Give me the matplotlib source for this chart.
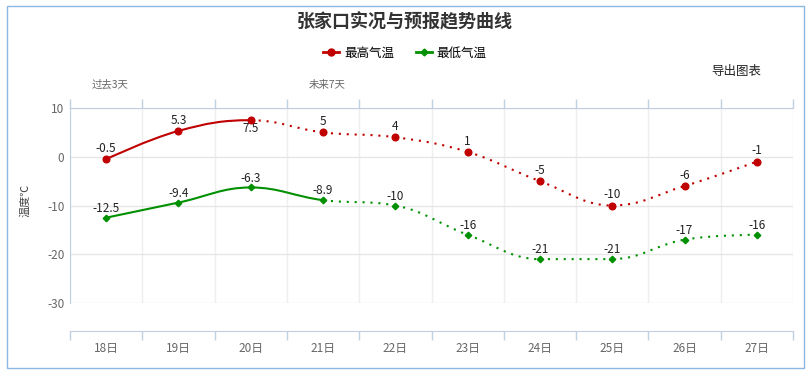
import matplotlib
matplotlib.use("Agg")
import matplotlib.pyplot as plt
from matplotlib.path import Path
from matplotlib.patches import PathPatch, Rectangle
from matplotlib.lines import Line2D

plt.rcParams["font.family"] = ["Noto Sans CJK SC", "DejaVu Sans"]
plt.rcParams["axes.unicode_minus"] = False

days = ["18日", "19日", "20日", "21日", "22日", "23日", "24日", "25日", "26日", "27日"]
high = [-0.5, 5.3, 7.5, 5, 4, 1, -5, -10, -6, -1]
low = [-12.5, -9.4, -6.3, -8.9, -10, -16, -21, -21, -17, -16]
high_labels = ["-0.5", "5.3", "7.5", "5", "4", "1", "-5", "-10", "-6", "-1"]
low_labels = ["-12.5", "-9.4", "-6.3", "-8.9", "-10", "-16", "-21", "-21", "-17", "-16"]
high_solid_until = 2   # index of last observed day
low_solid_until = 3
yticks = [10, 0, -10, -20, -30]

RED = "#c00000"
GREEN = "#009000"
AXIS_BLUE = "#c0d0e0"
GRID = "#e6e6e6"
TICK_GRAY = "#666666"

W, H = 809, 371


def spline_segments(xs, ys, smoothing=1.5):
    """Bezier control points for each segment, Highcharts-style spline."""
    n = len(xs)
    denom = smoothing + 1
    left = [None] * n
    right = [None] * n
    for i in range(1, n - 1):
        px, py = xs[i], ys[i]
        lx, ly = xs[i - 1], ys[i - 1]
        nx, ny = xs[i + 1], ys[i + 1]
        lcx = (smoothing * px + lx) / denom
        lcy = (smoothing * py + ly) / denom
        rcx = (smoothing * px + nx) / denom
        rcy = (smoothing * py + ny) / denom
        corr = ((rcy - lcy) * (rcx - px)) / (rcx - lcx) + py - rcy
        lcy += corr
        rcy += corr
        if lcy > ly and lcy > py:
            lcy = max(ly, py)
            rcy = 2 * py - lcy
        elif lcy < ly and lcy < py:
            lcy = min(ly, py)
            rcy = 2 * py - lcy
        if rcy > ny and rcy > py:
            rcy = max(ny, py)
            lcy = 2 * py - rcy
        elif rcy < ny and rcy < py:
            rcy = min(ny, py)
            lcy = 2 * py - rcy
        left[i] = (lcx, lcy)
        right[i] = (rcx, rcy)
    segs = []
    for i in range(n - 1):
        p0 = (xs[i], ys[i])
        p3 = (xs[i + 1], ys[i + 1])
        c1 = right[i] if right[i] is not None else p0
        c2 = left[i + 1] if left[i + 1] is not None else p3
        segs.append([p0, c1, c2, p3])
    return segs


def draw_series(ax, values, color, solid_until, marker, ms):
    xs = list(range(len(values)))
    for i, seg in enumerate(spline_segments(xs, values)):
        path = Path(seg, [Path.MOVETO, Path.CURVE4, Path.CURVE4, Path.CURVE4])
        style = "-" if i < solid_until else (0, (1, 2.8))
        ax.add_patch(PathPatch(path, fill=False, edgecolor=color, lw=1.5,
                               linestyle=style, zorder=3, clip_on=False))
    ax.plot(xs, values, linestyle="none", marker=marker, ms=ms,
            color=color, zorder=4, clip_on=False)


fig = plt.figure(figsize=(W / 100, H / 100), dpi=100)
fig.patches.append(Rectangle((7 / W, 3 / H), 797 / W, 362 / H, transform=fig.transFigure,
                             fill=False, edgecolor="#8ab8e2", lw=1))

ax = fig.add_axes([70 / W, 1 - 303 / H, 723 / W, 195 / H])
ax.set_xlim(-0.5, len(days) - 0.5)
ax.set_ylim(-30, 10)

draw_series(ax, high, RED, high_solid_until, "o", 4.8)
draw_series(ax, low, GREEN, low_solid_until, "D", 3.3)

for i, (v, t) in enumerate(zip(high, high_labels)):
    if i == high_solid_until:
        ax.annotate(t, (i, v), xytext=(0, -1), textcoords="offset points",
                    ha="center", va="top", fontsize=8.5, color="#222222")
    else:
        ax.annotate(t, (i, v), xytext=(0, 3), textcoords="offset points",
                    ha="center", va="bottom", fontsize=8.5, color="#222222")
for i, (v, t) in enumerate(zip(low, low_labels)):
    ax.annotate(t, (i, v), xytext=(0, 2), textcoords="offset points",
                ha="center", va="bottom", fontsize=8.5, color="#222222")

# axes styling
ax.set_yticks(yticks)
ax.set_yticklabels([str(v) for v in yticks])
ax.set_xticks(range(len(days)))
ax.set_xticklabels(days)
ax.set_xticks([i - 0.5 for i in range(len(days) + 1)], minor=True)
ax.tick_params(axis="y", length=0, pad=4, labelsize=8.5, labelcolor=TICK_GRAY)
ax.tick_params(axis="x", which="major", length=0, pad=8, labelsize=8.5, labelcolor=TICK_GRAY)
ax.tick_params(axis="x", which="minor", length=6.5, color=AXIS_BLUE, width=1,
               top=True, bottom=True)
ax.grid(axis="y", color=GRID, lw=1)
ax.grid(axis="x", which="minor", color="#eeeeee", lw=1)
ax.set_axisbelow(True)
for side in ("top", "left", "bottom"):
    ax.spines[side].set_color(AXIS_BLUE)
ax.spines["right"].set_visible(False)
ax.spines["bottom"].set_position(("outward", 20))

ax.set_ylabel("温度℃", fontsize=8, color="#444444")
ax.yaxis.set_label_coords((30 - 70) / 723, (303 - 200) / 195)

fig.text(405 / W, 1 - 22 / H, "张家口实况与预报趋势曲线", ha="center", va="center",
         fontsize=13, fontweight="bold", color="#333333")
fig.text(110 / W, 1 - 85 / H, "过去3天", ha="center", va="center", fontsize=7.5, color=TICK_GRAY)
fig.text(327 / W, 1 - 85 / H, "未来7天", ha="center", va="center", fontsize=7.5, color=TICK_GRAY)
fig.text(736 / W, 1 - 72 / H, "导出图表", ha="center", va="center", fontsize=9, color="#222222")

handles = [
    Line2D([], [], color=RED, lw=2, marker="o", ms=5),
    Line2D([], [], color=GREEN, lw=2, marker="D", ms=3.5),
]
fig.legend(handles, ["最高气温", "最低气温"], loc="center", ncol=2,
           bbox_to_anchor=(405 / W, 1 - 53 / H), frameon=False, fontsize=9,
           handlelength=1.3, handletextpad=0.4, columnspacing=1.7)

fig.savefig("out.png", dpi=100)
